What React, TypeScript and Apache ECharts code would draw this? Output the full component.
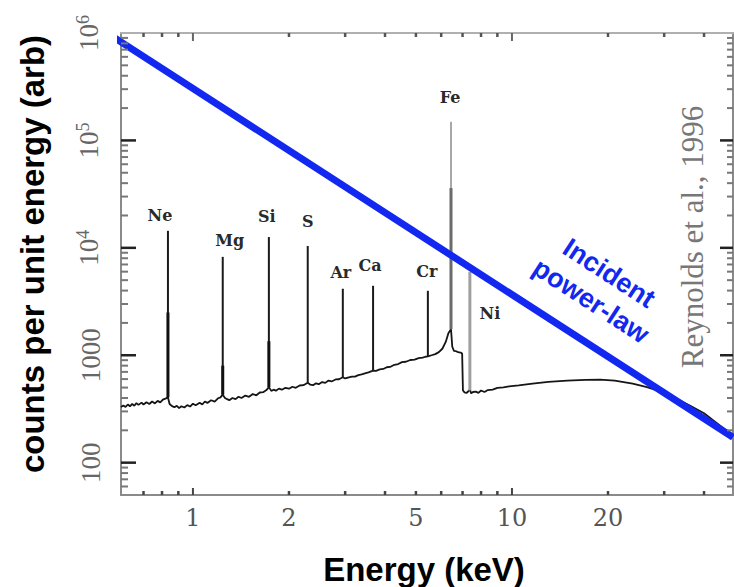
import React, { useEffect, useRef } from 'react';
import * as echarts from 'echarts';

// ---- axis ranges & ticks ----
const energyRange = [0.595, 49.3];
const countRange = [50, 1e6];
const xTickLabels = [1, 2, 5, 10, 20];
const xMajorTicks = [1, 10];
const xMinorTicks = [0.7, 0.8, 0.9, 2, 3, 4, 5, 6, 7, 8, 9, 20, 30, 40];
const yTickLabels = [100, 1000, 1e4, 1e5, 1e6];
const yMajorTicks = [100, 1000, 1e4, 1e5];
const yMinorTicks = [
  60, 70, 80, 90,
  200, 300, 400, 500, 600, 700, 800, 900,
  2000, 3000, 4000, 5000, 6000, 7000, 8000, 9000,
  2e4, 3e4, 4e4, 5e4, 6e4, 7e4, 8e4, 9e4,
  2e5, 3e5, 4e5, 5e5, 6e5, 7e5, 8e5, 9e5,
];

// ---- measured spectrum continuum ----
const continuumEnergy = [
  0.595, 0.605, 0.615, 0.625, 0.635, 0.645, 0.655, 0.665, 0.675, 0.69, 0.70, 0.715, 0.73, 0.745, 0.76, 0.775, 0.79, 0.805, 0.82, 0.835,
  0.845, 0.86, 0.875, 0.89, 0.905, 0.92, 0.94, 0.96, 0.98, 1.0, 1.02, 1.05, 1.07, 1.09, 1.11, 1.14, 1.17, 1.20, 1.22, 1.24,
  1.26, 1.28, 1.30, 1.33, 1.36, 1.39, 1.42, 1.46, 1.50, 1.54, 1.58, 1.62, 1.66, 1.70, 1.73,
  1.76, 1.79, 1.82, 1.86, 1.90, 1.95, 2.0, 2.05, 2.1, 2.16, 2.22, 2.29,
  2.33, 2.38, 2.43, 2.48, 2.54, 2.6, 2.66, 2.72, 2.8, 2.87, 2.95,
  3.0, 3.08, 3.15, 3.22, 3.3, 3.38, 3.46, 3.55, 3.67,
  3.75, 3.85, 3.95, 4.05, 4.15, 4.28, 4.4, 4.52, 4.65, 4.8, 4.95, 5.1, 5.25, 5.35, 5.45,
  5.6, 5.75, 5.9, 6.05, 6.2, 6.32, 6.44,
  6.5, 6.58, 6.68, 6.78, 6.9, 6.98, 7.02, 7.1, 7.2, 7.3, 7.38,
  7.45, 7.55, 7.7, 7.85, 8.0, 8.2, 8.4, 8.7, 9.0, 9.4, 9.8, 10.5, 11.6, 13.0, 14.9, 17.0, 18.9,
  21.0, 23.9, 26.5, 29.1, 32.5, 36.1, 40.0, 44.0, 49.3,
];
const continuumCounts = [
  330, 340, 330, 348, 335, 352, 339, 358, 345, 362, 348, 365, 352, 371, 356, 376, 364, 386, 395, 405,
  352, 336, 328, 338, 322, 335, 326, 343, 333, 354, 342, 361, 348, 371, 360, 381, 370, 398, 405, 430,
  400, 390, 382, 400, 390, 411, 400, 421, 410, 435, 424, 450, 453, 474, 505,
  466, 478, 468, 489, 478, 498, 488, 509, 498, 523, 526, 555,
  534, 526, 548, 538, 563, 553, 581, 570, 595, 598, 625,
  608, 623, 633, 632, 653, 664, 678, 692, 720,
  716, 738, 745, 773, 778, 815, 828, 863, 870, 903, 912, 941, 950, 968, 975,
  1000, 1025, 1070, 1150, 1330, 1600, 1750,
  1200, 1100, 1090, 1070, 1060, 1040, 470, 452, 445, 462, 480,
  442, 455, 458, 447, 470, 455, 474, 478, 497, 503, 514, 525, 545, 566, 580, 590, 592,
  580, 545, 505, 460, 400, 340, 288, 232, 178,
];

// ---- emission lines ----
const lineNames = ['Ne', 'Mg', 'Si', 'S', 'Ar', 'Ca', 'Cr', 'Fe', 'Ni'];
const lineEnergies = [0.835, 1.24, 1.73, 2.29, 2.95, 3.67, 5.45, 6.44, 7.38];
const linePeaks = [14400, 8240, 12600, 10400, 4160, 4430, 3980, 149000, 5980];
const lineBases = [405, 430, 505, 555, 625, 720, 975, 1750, 470];
const lineCoreTops = [2500, 800, 1350, 0, 0, 0, 0, 36000, 0];

// ---- incident power law ----
const powerLawEnergy = [0.565, 49.3];
const powerLawCounts = [910000, 172];

// ---- styling (not data) ----
const lineColors = ['#1a1a1a', '#1a1a1a', '#1a1a1a', '#1a1a1a', '#1a1a1a', '#1a1a1a', '#1a1a1a', '#a8a8a8', '#a0a0a0'];
const lineWidths = [2, 2, 2, 2, 2, 2, 2, 2, 3];
const lineLabelOffsets = [[-8, -15], [7, -16], [-2, -21], [0, -25], [-2, -16], [-3, -20], [-1, -19], [-1, -24], [20, 42]];
// per side: bottom, top, left, right; [minor, major]
const tickLen = [[4, 7], [4, 8], [7, 15], [6, 13]];
const tickWidth = [[2.5, 2], [2.5, 2], [2, 2.5], [2, 2.5]];
const tickColor = [['#444', '#444'], ['#555', '#666'], ['#777', '#222'], ['#777', '#222']];

const L = (v: number) => Math.log10(v);
const AXIS_COLOR = '#8a8a8a';

export default function App() {
  const ref = useRef<HTMLDivElement>(null);
  useEffect(() => {
    if (!ref.current) return;
    const chart = echarts.init(ref.current, null, { renderer: 'svg' });
    const xmin = L(energyRange[0]);
    const xmax = L(energyRange[1]);
    const ymin = L(countRange[0]);
    const ymax = L(countRange[1]);

    const spectrum = continuumEnergy.map((e, i) => [L(e), L(continuumCounts[i])]);
    const spikes = lineEnergies.map((e, i) => [L(e), L(lineBases[i]), L(linePeaks[i]), lineCoreTops[i] > 0 ? L(lineCoreTops[i]) : NaN]);
    const powerLaw = powerLawEnergy.map((e, i) => [L(e), L(powerLawCounts[i])]);

    const yFormatter = (v: number) => {
      const n = Math.round(v);
      const val = Math.round(Math.pow(10, v));
      if (val >= 1e4) return `10{sup|${n}}`;
      return String(val);
    };

    const centered = { align: 'center', verticalAlign: 'middle', textAlign: 'center', textVerticalAlign: 'middle' };
    const baseGraphics: any[] = [
      {
        type: 'text', x: 32, y: 254, rotation: Math.PI / 2, z: 10,
        style: { text: 'counts per unit energy (arb)', fill: '#000', font: 'bold 33px "Liberation Sans"', ...centered },
      },
      {
        type: 'text', x: 424, y: 569, z: 10,
        style: { text: 'Energy (keV)', fill: '#000', font: 'bold 33px "Liberation Sans"', ...centered },
      },
      {
        type: 'text', x: 692, y: 237, rotation: Math.PI / 2, z: 10,
        style: { text: 'Reynolds et al., 1996', fill: '#777', font: '31px "Liberation Serif"', ...centered },
      },
      {
        type: 'text', x: 600, y: 287, rotation: -0.576, z: 10,
        style: { text: 'Incident\npower-law', fill: '#1228f0', font: 'bold 27px "Liberation Sans"', lineHeight: 33, ...centered },
      },
    ];

    chart.setOption({
      animation: false,
      backgroundColor: '#ffffff',
      grid: { left: 121, right: 1, top: 33, bottom: 92, containLabel: false, outerBoundsMode: 'none' },
      xAxis: [
        {
          type: 'value', min: xmin, max: xmax, position: 'bottom', splitLine: { show: false },
          axisLine: { show: true, onZero: false, lineStyle: { color: AXIS_COLOR, width: 2 } },
          axisTick: { show: false },
          axisLabel: {
            show: true, customValues: xTickLabels.map(L), margin: 11,
            formatter: (v: number) => String(Math.round(Math.pow(10, v))),
            fontFamily: 'DejaVu Serif', fontSize: 24, color: '#555',
          },
        },
        {
          type: 'value', min: xmin, max: xmax, position: 'top', splitLine: { show: false },
          axisLine: { show: true, onZero: false, lineStyle: { color: '#b0b0b0', width: 2 } },
          axisTick: { show: false }, axisLabel: { show: false },
        },
      ],
      yAxis: [
        {
          type: 'value', min: ymin, max: ymax, position: 'left', splitLine: { show: false },
          axisLine: { show: true, onZero: false, lineStyle: { color: AXIS_COLOR, width: 2 } },
          axisTick: { show: false },
          axisLabel: {
            show: true, customValues: yTickLabels.map(L), rotate: 90, margin: 17,
            formatter: yFormatter,
            fontFamily: 'Liberation Serif', fontSize: 27, color: '#666',
            rich: { sup: { fontFamily: 'Liberation Serif', fontSize: 18, color: '#666', verticalAlign: 'top', lineHeight: 30 } },
          },
        },
        {
          type: 'value', min: ymin, max: ymax, position: 'right', splitLine: { show: false },
          axisLine: { show: true, onZero: false, lineStyle: { color: AXIS_COLOR, width: 2 } },
          axisTick: { show: false }, axisLabel: { show: false },
        },
      ],
      series: [
        {
          type: 'line', xAxisIndex: 0, yAxisIndex: 0, data: spectrum, showSymbol: false, symbol: 'none',
          lineStyle: { color: '#151515', width: 1.8 }, z: 3,
        },
        {
          type: 'custom', xAxisIndex: 0, yAxisIndex: 0, data: spikes, z: 4,
          renderItem: (params: any, api: any) => {
            const i = params.dataIndex;
            const x = api.value(0);
            const p0 = api.coord([x, api.value(1)]);
            const p1 = api.coord([x, api.value(2)]);
            const children: any[] = [
              { type: 'line', shape: { x1: p0[0], y1: p0[1], x2: p1[0], y2: p1[1] }, style: { stroke: lineColors[i], lineWidth: lineWidths[i] } },
            ];
            const core = api.value(3);
            if (!isNaN(core)) {
              const pc = api.coord([x, core]);
              children.push({ type: 'line', shape: { x1: p0[0], y1: p0[1], x2: pc[0], y2: pc[1] }, style: { stroke: i === 7 ? '#6a6a6a' : '#111', lineWidth: 3 } });
            }
            const off = lineLabelOffsets[i];
            children.push({
              type: 'text', x: p1[0] + off[0], y: p1[1] + off[1],
              style: { text: lineNames[i], fill: '#2a2a2a', font: 'bold 16px "DejaVu Serif"', ...centered },
            });
            return { type: 'group', children };
          },
        },
        {
          type: 'line', xAxisIndex: 0, yAxisIndex: 0, data: powerLaw, showSymbol: false, symbol: 'none', clip: false,
          lineStyle: { color: '#1228f0', width: 7, cap: 'butt' }, z: 5,
        },
      ],
      graphic: baseGraphics,
    });

    // tick marks positioned through the chart's own scales
    const tickGraphics: any[] = [];
    const addTick = (x: number, y: number, side: number, major: number) => {
      const p = chart.convertToPixel({ xAxisIndex: 0, yAxisIndex: 0 }, [x, y]) as number[];
      if (!p || isNaN(p[0]) || isNaN(p[1])) return;
      const len = tickLen[side][major];
      let x2 = p[0];
      let y2 = p[1];
      if (side === 0) y2 = p[1] - len;
      else if (side === 1) y2 = p[1] + len;
      else if (side === 2) x2 = p[0] + len;
      else x2 = p[0] - len;
      tickGraphics.push({
        type: 'line', z: 20, silent: true,
        shape: { x1: p[0], y1: p[1], x2, y2 },
        style: { stroke: tickColor[side][major], lineWidth: tickWidth[side][major] },
      });
    };
    xMajorTicks.forEach((v) => { addTick(L(v), ymin, 0, 1); addTick(L(v), ymax, 1, 1); });
    xMinorTicks.forEach((v) => { addTick(L(v), ymin, 0, 0); addTick(L(v), ymax, 1, 0); });
    yMajorTicks.forEach((v) => { addTick(xmin, L(v), 2, 1); addTick(xmax, L(v), 3, 1); });
    yMinorTicks.forEach((v) => { addTick(xmin, L(v), 2, 0); addTick(xmax, L(v), 3, 0); });

    chart.setOption({ graphic: [...baseGraphics, ...tickGraphics] });

    return () => chart.dispose();
  }, []);
  return <div ref={ref} style={{ position: 'fixed', left: 0, top: 0, width: 734, height: 587, background: '#fff' }} />;
}
